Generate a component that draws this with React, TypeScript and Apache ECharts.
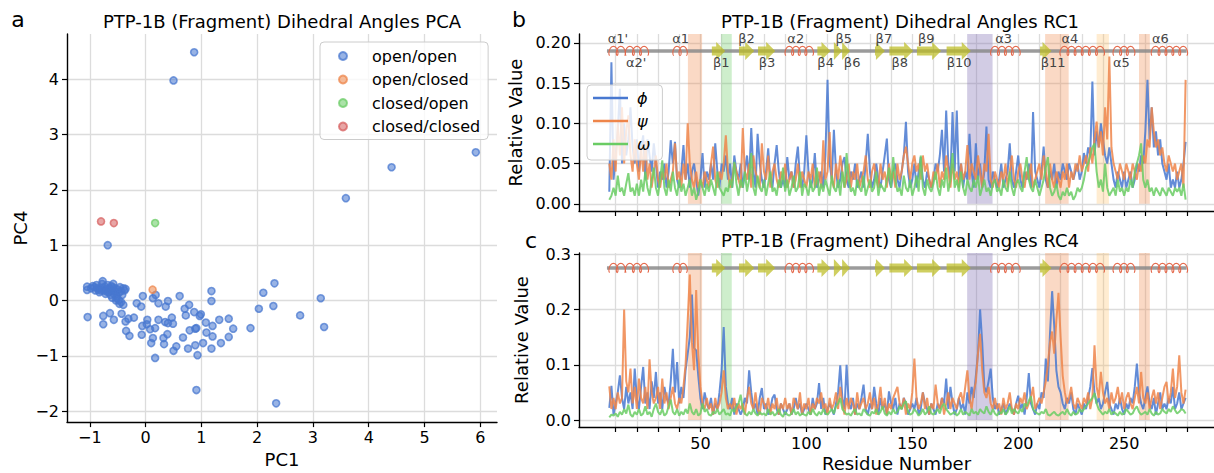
import React, { useEffect, useRef } from 'react';
import * as echarts from 'echarts';

const FONT = 'DejaVu Sans';

// ---------- Panel a: PCA scatter ----------
const openOpen: number[][] = [
  [0.87, 4.49], [0.5, 3.98], [5.92, 2.68], [4.41, 2.41], [3.59, 1.85], [-0.68, 1.0],
  [2.31, 0.31], [2.11, 0.14], [2.03, -0.15], [2.29, -0.1], [3.14, 0.04], [2.77, -0.27],
  [3.2, -0.48], [1.88, -0.5], [1.18, 0.17], [1.18, -0.01], [0.91, -1.62], [2.34, -1.86],
  [0.17, -1.04], [0.93, -0.99],
  [1.49, -0.33], [1.57, -0.51], [1.32, -0.35], [1.49, -0.66], [1.35, -0.77], [1.18, -0.87],
  [1.03, -0.77], [0.76, -0.87], [0.89, -0.81], [0.55, -0.83], [0.5, -0.91], [0.67, -0.67],
  [0.79, -0.54], [0.89, -0.51], [0.91, -0.5], [1.09, -0.58], [1.2, -0.65], [1.08, -0.4],
  [1.2, -0.46], [0.97, -0.28], [0.99, -0.25], [0.87, -0.21], [0.72, -0.27], [0.7, -0.15],
  [0.78, -0.08], [0.61, 0.08], [0.4, -0.01], [0.36, -0.11], [0.23, -0.05], [0.18, 0.1],
  [0.13, 0.04], [-0.05, 0.08], [-0.08, -0.11], [-0.16, -0.05], [0.47, -0.31], [0.49, -0.42],
  [0.4, -0.41], [0.35, -0.39], [0.23, -0.35], [0.03, -0.35], [0.02, -0.43], [-0.06, -0.46],
  [0.17, -0.5], [0.08, -0.52], [0.13, -0.68], [0.1, -0.77], [0.33, -0.79], [0.32, -0.68],
  [0.39, -0.61], [-0.07, -0.62], [-0.29, -0.64], [-0.35, -0.55], [-0.21, -0.31], [-0.31, -0.33],
  [-0.36, -0.38], [-0.43, -0.24], [-0.64, -0.23], [-0.57, -0.35], [-0.76, -0.28], [-0.76, -0.43],
  [-1.04, -0.3], [-0.47, -0.06], [-0.4, -0.08], [-0.53, 0.0], [-0.6, 0.05],
  [-1.05, 0.25], [-1.05, 0.19], [-0.98, 0.22], [-0.92, 0.24], [-0.9, 0.18], [-0.88, 0.28],
  [-0.85, 0.2], [-0.83, 0.15], [-0.8, 0.22], [-0.78, 0.3], [-0.77, 0.35], [-0.75, 0.18],
  [-0.73, 0.25], [-0.72, 0.12], [-0.7, 0.2], [-0.68, 0.28], [-0.66, 0.15], [-0.65, 0.22],
  [-0.63, 0.1], [-0.62, 0.26], [-0.6, 0.18], [-0.58, 0.3], [-0.57, 0.12], [-0.55, 0.22],
  [-0.54, 0.16], [-0.52, 0.08], [-0.5, 0.2], [-0.48, 0.14], [-0.46, 0.24], [-0.44, 0.17],
  [-0.42, 0.1], [-0.4, 0.22], [-0.38, 0.18], [-0.36, 0.21], [-0.95, 0.26], [-0.86, 0.23],
  [-0.81, 0.18], [-0.7, 0.16], [-0.64, 0.19], [-0.59, 0.24], [-0.52, 0.04], [-0.48, 0.01],
  [-0.44, -0.03],
];
const openClosed: number[][] = [[0.125, 0.195]];
const closedOpen: number[][] = [[0.17, 1.4]];
const closedClosed: number[][] = [[-0.8, 1.43], [-0.57, 1.4]];
const pcaXTicks = [-1, 0, 1, 2, 3, 4, 5, 6];
const pcaYTicks = [-2, -1, 0, 1, 2, 3, 4];

// ---------- Panels b, c: per-residue relative values (residue 7..279) ----------
const firstResidue = 7;

const rc1Phi = [
  0.015, 0.176, 0.03,
  0.06, 0.09, 0.143, 0.05, 0.1, 0.06, 0.08, 0.12, 0.07, 0.05,
  0.08, 0.04, 0.07, 0.085, 0.03, 0.08, 0.06, 0.04, 0.075, 0.05,
  0.02, 0.04, 0.03, 0.05, 0.02, 0.04, 0.079, 0.05, 0.077, 0.03,
  0.02, 0.04, 0.073, 0.03, 0.05, 0.02, 0.04, 0.05, 0.03, 0.01,
  0.03, 0.063, 0.02, 0.04, 0.03, 0.05, 0.03, 0.075, 0.04, 0.02,
  0.05, 0.04, 0.06, 0.03, 0.05, 0.02, 0.06, 0.04, 0.03, 0.05,
  0.02, 0.04, 0.06, 0.03, 0.094, 0.04, 0.02, 0.087, 0.05, 0.03,
  0.02, 0.04, 0.069, 0.03, 0.02, 0.05, 0.073, 0.04, 0.02, 0.03,
  0.02, 0.058, 0.03, 0.04, 0.02, 0.05, 0.071, 0.03, 0.02, 0.04,
  0.085, 0.04, 0.02, 0.03, 0.063, 0.02, 0.03, 0.04, 0.02, 0.06,
  0.154, 0.05, 0.03, 0.092, 0.04, 0.02, 0.03, 0.05, 0.058, 0.03,
  0.02, 0.04, 0.03, 0.05, 0.02, 0.03, 0.04, 0.02, 0.05, 0.087,
  0.04, 0.02, 0.03, 0.05, 0.03, 0.02, 0.04, 0.06, 0.081, 0.03,
  0.02, 0.04, 0.05, 0.03, 0.02, 0.04, 0.06, 0.102, 0.04, 0.02,
  0.03, 0.05, 0.02, 0.04, 0.058, 0.03, 0.02, 0.04, 0.03, 0.02,
  0.03, 0.05, 0.04, 0.06, 0.092, 0.04, 0.116, 0.05, 0.03, 0.114,
  0.04, 0.116, 0.03, 0.05, 0.02, 0.04, 0.03, 0.087, 0.04, 0.02,
  0.075, 0.03, 0.05, 0.02, 0.04, 0.096, 0.03, 0.02, 0.04, 0.03,
  0.02, 0.03, 0.05, 0.02, 0.03, 0.04, 0.075, 0.03, 0.02, 0.04,
  0.06, 0.03, 0.02, 0.04, 0.03, 0.05, 0.02, 0.114, 0.04, 0.03,
  0.02, 0.04, 0.071, 0.03, 0.02, 0.04, 0.03, 0.05, 0.02, 0.04,
  0.03, 0.05, 0.04, 0.03, 0.05, 0.04, 0.03, 0.04, 0.05, 0.03,
  0.04, 0.063, 0.05, 0.07, 0.06, 0.152, 0.06, 0.09, 0.07, 0.1,
  0.08, 0.06, 0.05, 0.07, 0.05, 0.03, 0.02, 0.04, 0.03, 0.02,
  0.04, 0.02, 0.03, 0.04, 0.02, 0.03, 0.05, 0.04, 0.06, 0.05,
  0.09, 0.154, 0.08, 0.12, 0.07, 0.09, 0.06, 0.08, 0.05, 0.04,
  0.03, 0.05, 0.02, 0.03, 0.02, 0.04, 0.02, 0.03, 0.05, 0.077,
];
const rc1Psi = [
  0.05, 0.03, 0.08,
  0.04, 0.1, 0.06, 0.12, 0.05, 0.09, 0.11, 0.06, 0.04, 0.08,
  0.05, 0.03, 0.07, 0.04, 0.078, 0.03, 0.05, 0.02, 0.04, 0.06,
  0.03, 0.02, 0.04, 0.03, 0.05, 0.02, 0.03, 0.04, 0.075, 0.03,
  0.04, 0.02, 0.05, 0.03, 0.1, 0.05, 0.03, 0.02, 0.04, 0.02,
  0.03, 0.02, 0.04, 0.03, 0.02, 0.05, 0.071, 0.03, 0.02, 0.04,
  0.03, 0.05, 0.085, 0.04, 0.02, 0.03, 0.05, 0.04, 0.03, 0.02,
  0.094, 0.04, 0.03, 0.05, 0.02, 0.06, 0.04, 0.03, 0.02, 0.075,
  0.04, 0.03, 0.06, 0.02, 0.04, 0.05, 0.03, 0.02, 0.04, 0.03,
  0.05, 0.02, 0.03, 0.04, 0.02, 0.03, 0.05, 0.02, 0.04, 0.03,
  0.02, 0.04, 0.03, 0.05, 0.02, 0.03, 0.04, 0.02, 0.079, 0.03,
  0.04, 0.089, 0.03, 0.02, 0.05, 0.03, 0.06, 0.04, 0.02, 0.03,
  0.05, 0.02, 0.04, 0.03, 0.05, 0.02, 0.03, 0.04, 0.06, 0.03,
  0.02, 0.04, 0.05, 0.03, 0.02, 0.05, 0.03, 0.04, 0.02, 0.05,
  0.03, 0.04, 0.02, 0.05, 0.03, 0.04, 0.06, 0.071, 0.05, 0.03,
  0.05, 0.06, 0.04, 0.05, 0.03, 0.06, 0.04, 0.05, 0.03, 0.02,
  0.04, 0.03, 0.05, 0.02, 0.04, 0.03, 0.06, 0.04, 0.02, 0.05,
  0.03, 0.04, 0.02, 0.05, 0.03, 0.04, 0.073, 0.03, 0.05, 0.04,
  0.03, 0.06, 0.04, 0.02, 0.05, 0.04, 0.087, 0.03, 0.02, 0.04,
  0.03, 0.02, 0.04, 0.03, 0.05, 0.02, 0.04, 0.06, 0.03, 0.02,
  0.04, 0.05, 0.03, 0.02, 0.04, 0.03, 0.05, 0.02, 0.03, 0.04,
  0.05, 0.03, 0.06, 0.04, 0.02, 0.05, 0.03, 0.02, 0.04, 0.03,
  0.02, 0.04, 0.03, 0.05, 0.02, 0.04, 0.03, 0.05, 0.04, 0.06,
  0.04, 0.05, 0.06, 0.04, 0.07, 0.05, 0.08, 0.102, 0.07, 0.09,
  0.06, 0.12, 0.08, 0.183, 0.07, 0.05, 0.04, 0.03, 0.05, 0.04,
  0.03, 0.05, 0.04, 0.03, 0.05, 0.04, 0.03, 0.05, 0.04, 0.06,
  0.05, 0.08, 0.07, 0.12, 0.09, 0.07, 0.08, 0.06, 0.07, 0.05,
  0.04, 0.06, 0.05, 0.04, 0.05, 0.03, 0.04, 0.05, 0.02, 0.154,
];
const rc1Omega = [
  0.005, 0.01, 0.02,
  0.01, 0.035, 0.015, 0.02, 0.01, 0.025, 0.038, 0.015, 0.02, 0.01,
  0.025, 0.01, 0.03, 0.015, 0.04, 0.02, 0.01, 0.03, 0.045, 0.02,
  0.01, 0.03, 0.054, 0.02, 0.01, 0.03, 0.015, 0.04, 0.02, 0.01,
  0.03, 0.015, 0.025, 0.01, 0.02, 0.03, 0.01, 0.02, 0.005, 0.015,
  0.03, 0.02, 0.01, 0.025, 0.015, 0.03, 0.02, 0.01, 0.04, 0.02,
  0.015, 0.01, 0.02, 0.015, 0.03, 0.02, 0.052, 0.025, 0.01, 0.03,
  0.02, 0.04, 0.015, 0.03, 0.063, 0.02, 0.01, 0.035, 0.02, 0.015,
  0.03, 0.01, 0.025, 0.04, 0.015, 0.02, 0.01, 0.03, 0.02, 0.045,
  0.015, 0.03, 0.01, 0.02, 0.035, 0.015, 0.02, 0.04, 0.01, 0.025,
  0.02, 0.01, 0.03, 0.015, 0.02, 0.045, 0.01, 0.025, 0.015, 0.03,
  0.02, 0.01, 0.035, 0.02, 0.015, 0.03, 0.01, 0.04, 0.02, 0.063,
  0.03, 0.015, 0.02, 0.01, 0.03, 0.02, 0.015, 0.035, 0.01, 0.02,
  0.03, 0.015, 0.02, 0.04, 0.01, 0.025, 0.02, 0.015, 0.03, 0.045,
  0.02, 0.058, 0.03, 0.015, 0.02, 0.01, 0.035, 0.02, 0.015, 0.03,
  0.01, 0.02, 0.035, 0.015, 0.06, 0.02, 0.01, 0.03, 0.02, 0.015,
  0.025, 0.04, 0.02, 0.01, 0.03, 0.02, 0.045, 0.015, 0.03, 0.063,
  0.02, 0.03, 0.015, 0.04, 0.02, 0.01, 0.03, 0.02, 0.015, 0.03,
  0.02, 0.035, 0.01, 0.02, 0.03, 0.015, 0.02, 0.01, 0.025, 0.03,
  0.015, 0.02, 0.01, 0.03, 0.02, 0.015, 0.04, 0.02, 0.01, 0.025,
  0.03, 0.02, 0.015, 0.04, 0.058, 0.03, 0.02, 0.015, 0.03, 0.02,
  0.01, 0.02, 0.03, 0.045, 0.058, 0.02, 0.01, 0.015, 0.025, 0.01,
  0.005, 0.015, 0.01, 0.02, 0.01, 0.015, 0.005, 0.01, 0.02, 0.015,
  0.02, 0.03, 0.045, 0.05, 0.06, 0.07, 0.075, 0.04, 0.02, 0.03,
  0.015, 0.05, 0.02, 0.01, 0.015, 0.02, 0.01, 0.03, 0.015, 0.02,
  0.01, 0.02, 0.015, 0.03, 0.02, 0.04, 0.05, 0.06, 0.075, 0.03,
  0.02, 0.03, 0.015, 0.02, 0.01, 0.02, 0.015, 0.01, 0.02, 0.015,
  0.01, 0.02, 0.015, 0.01, 0.02, 0.015, 0.02, 0.01, 0.025, 0.005,
];

const rc4Phi = [
  0.022, 0.062, 0.01,
  0.03, 0.05, 0.081, 0.04, 0.02, 0.06, 0.03, 0.05, 0.02, 0.093,
  0.04, 0.02, 0.06, 0.096, 0.03, 0.05, 0.02, 0.07, 0.04, 0.087,
  0.03, 0.05, 0.02, 0.06, 0.04, 0.03, 0.07, 0.129, 0.05, 0.105,
  0.03, 0.06, 0.04, 0.09, 0.12, 0.15, 0.227, 0.13, 0.126, 0.08,
  0.04, 0.02, 0.05, 0.03, 0.02, 0.04, 0.01, 0.03, 0.02, 0.05,
  0.09, 0.168, 0.06, 0.03, 0.02, 0.04, 0.01, 0.03, 0.02, 0.01,
  0.02, 0.04, 0.03, 0.09, 0.05, 0.02, 0.03, 0.01, 0.04, 0.058,
  0.02, 0.03, 0.01, 0.02, 0.04, 0.046, 0.02, 0.01, 0.03, 0.02,
  0.01, 0.02, 0.03, 0.01, 0.02, 0.04, 0.02, 0.03, 0.01, 0.02,
  0.03, 0.02, 0.01, 0.04, 0.02, 0.03, 0.067, 0.02, 0.04, 0.01,
  0.02, 0.03, 0.02, 0.01, 0.03, 0.05, 0.099, 0.04, 0.02, 0.1,
  0.03, 0.02, 0.04, 0.01, 0.03, 0.02, 0.04, 0.064, 0.02, 0.01,
  0.03, 0.02, 0.06, 0.03, 0.01, 0.04, 0.02, 0.03, 0.01, 0.052,
  0.03, 0.02, 0.04, 0.01, 0.03, 0.02, 0.04, 0.03, 0.01, 0.02,
  0.03, 0.02, 0.04, 0.01, 0.02, 0.05, 0.03, 0.02, 0.01, 0.03,
  0.02, 0.01, 0.03, 0.02, 0.04, 0.03, 0.075, 0.02, 0.06, 0.03,
  0.01, 0.02, 0.04, 0.02, 0.03, 0.01, 0.05, 0.03, 0.06, 0.04,
  0.08, 0.12, 0.2, 0.14, 0.06, 0.05, 0.07, 0.093, 0.04, 0.02,
  0.03, 0.01, 0.02, 0.03, 0.01, 0.02, 0.03, 0.02, 0.01, 0.03,
  0.044, 0.02, 0.03, 0.01, 0.04, 0.085, 0.03, 0.02, 0.01, 0.03,
  0.02, 0.05, 0.04, 0.111, 0.07, 0.156, 0.233, 0.17, 0.09, 0.06,
  0.05, 0.03, 0.02, 0.04, 0.03, 0.05, 0.02, 0.01, 0.03, 0.02,
  0.01, 0.03, 0.02, 0.04, 0.06, 0.094, 0.05, 0.03, 0.04, 0.02,
  0.03, 0.05, 0.069, 0.03, 0.02, 0.01, 0.03, 0.02, 0.04, 0.02,
  0.01, 0.03, 0.02, 0.04, 0.03, 0.06, 0.102, 0.05, 0.03, 0.02,
  0.04, 0.061, 0.03, 0.02, 0.04, 0.01, 0.03, 0.05, 0.02, 0.03,
  0.02, 0.04, 0.03, 0.06, 0.02, 0.03, 0.05, 0.02, 0.03, 0.04,
];
const rc4Psi = [
  0.061, 0.02, 0.04,
  0.02, 0.05, 0.03, 0.04, 0.2, 0.07, 0.05, 0.093, 0.03, 0.06,
  0.02, 0.075, 0.04, 0.03, 0.06, 0.02, 0.11, 0.05, 0.03, 0.04,
  0.06, 0.02, 0.075, 0.03, 0.05, 0.02, 0.04, 0.06, 0.03, 0.02,
  0.04, 0.03, 0.06, 0.1, 0.18, 0.263, 0.14, 0.09, 0.235, 0.12,
  0.06, 0.03, 0.02, 0.04, 0.02, 0.03, 0.01, 0.04, 0.02, 0.03,
  0.05, 0.09, 0.04, 0.02, 0.03, 0.02, 0.04, 0.01, 0.03, 0.02,
  0.03, 0.01, 0.04, 0.06, 0.03, 0.02, 0.05, 0.02, 0.01, 0.04,
  0.03, 0.02, 0.04, 0.01, 0.03, 0.02, 0.04, 0.01, 0.03, 0.02,
  0.04, 0.02, 0.03, 0.01, 0.04, 0.03, 0.02, 0.05, 0.01, 0.03,
  0.02, 0.04, 0.01, 0.03, 0.02, 0.04, 0.03, 0.05, 0.02, 0.03,
  0.01, 0.04, 0.02, 0.03, 0.05, 0.02, 0.06, 0.03, 0.01, 0.04,
  0.02, 0.04, 0.03, 0.01, 0.05, 0.02, 0.03, 0.04, 0.02, 0.03,
  0.05, 0.02, 0.04, 0.01, 0.03, 0.06, 0.02, 0.04, 0.01, 0.03,
  0.02, 0.04, 0.05, 0.06, 0.03, 0.02, 0.04, 0.01, 0.03, 0.02,
  0.05, 0.111, 0.04, 0.02, 0.03, 0.05, 0.02, 0.04, 0.01, 0.03,
  0.02, 0.064, 0.03, 0.02, 0.04, 0.01, 0.03, 0.05, 0.02, 0.04,
  0.03, 0.02, 0.04, 0.05, 0.03, 0.06, 0.09, 0.04, 0.02, 0.05,
  0.07, 0.12, 0.156, 0.09, 0.05, 0.04, 0.06, 0.03, 0.02, 0.04,
  0.02, 0.03, 0.01, 0.04, 0.02, 0.03, 0.05, 0.02, 0.01, 0.03,
  0.02, 0.04, 0.03, 0.05, 0.02, 0.03, 0.04, 0.06, 0.02, 0.03,
  0.04, 0.03, 0.05, 0.07, 0.1, 0.14, 0.16, 0.12, 0.18, 0.23,
  0.15, 0.08, 0.05, 0.03, 0.04, 0.06, 0.03, 0.02, 0.04, 0.03,
  0.02, 0.04, 0.03, 0.05, 0.02, 0.04, 0.135, 0.06, 0.04, 0.087,
  0.05, 0.03, 0.04, 0.02, 0.05, 0.03, 0.04, 0.06, 0.03, 0.05,
  0.02, 0.04, 0.05, 0.03, 0.02, 0.04, 0.06, 0.03, 0.087, 0.04,
  0.03, 0.05, 0.02, 0.04, 0.055, 0.03, 0.05, 0.02, 0.04, 0.06,
  0.069, 0.03, 0.05, 0.093, 0.04, 0.06, 0.117, 0.05, 0.03, 0.055,
];
const rc4Omega = [
  0.005, 0.01, 0.008,
  0.012, 0.006, 0.015, 0.01, 0.02, 0.012, 0.028, 0.01, 0.006, 0.015,
  0.01, 0.02, 0.008, 0.012, 0.025, 0.01, 0.015, 0.006, 0.02, 0.03,
  0.015, 0.01, 0.02, 0.008, 0.012, 0.025, 0.037, 0.015, 0.01, 0.02,
  0.008, 0.015, 0.01, 0.02, 0.012, 0.03, 0.015, 0.01, 0.02, 0.008,
  0.012, 0.03, 0.015, 0.02, 0.01, 0.008, 0.015, 0.012, 0.02, 0.01,
  0.015, 0.02, 0.01, 0.012, 0.008, 0.02, 0.015, 0.025, 0.03, 0.046,
  0.02, 0.012, 0.008, 0.015, 0.01, 0.02, 0.012, 0.008, 0.015, 0.01,
  0.012, 0.008, 0.02, 0.01, 0.015, 0.008, 0.012, 0.02, 0.01, 0.006,
  0.015, 0.01, 0.008, 0.012, 0.02, 0.01, 0.015, 0.008, 0.012, 0.01,
  0.008, 0.015, 0.01, 0.02, 0.012, 0.008, 0.015, 0.01, 0.02, 0.012,
  0.01, 0.015, 0.02, 0.012, 0.025, 0.03, 0.04, 0.02, 0.015, 0.01,
  0.012, 0.008, 0.015, 0.02, 0.01, 0.012, 0.008, 0.02, 0.015, 0.01,
  0.008, 0.015, 0.012, 0.02, 0.01, 0.015, 0.025, 0.012, 0.008, 0.015,
  0.01, 0.02, 0.012, 0.015, 0.025, 0.02, 0.03, 0.034, 0.015, 0.01,
  0.012, 0.02, 0.015, 0.008, 0.012, 0.02, 0.01, 0.015, 0.025, 0.012,
  0.01, 0.015, 0.02, 0.012, 0.025, 0.03, 0.02, 0.015, 0.01, 0.012,
  0.015, 0.008, 0.012, 0.02, 0.01, 0.015, 0.012, 0.008, 0.02, 0.012,
  0.015, 0.01, 0.02, 0.015, 0.012, 0.025, 0.015, 0.01, 0.02, 0.012,
  0.008, 0.015, 0.012, 0.02, 0.01, 0.015, 0.025, 0.012, 0.02, 0.015,
  0.012, 0.02, 0.015, 0.03, 0.025, 0.035, 0.043, 0.02, 0.015, 0.012,
  0.01, 0.015, 0.012, 0.02, 0.01, 0.008, 0.012, 0.015, 0.01, 0.008,
  0.012, 0.015, 0.01, 0.02, 0.012, 0.008, 0.015, 0.01, 0.012, 0.02,
  0.015, 0.02, 0.025, 0.03, 0.035, 0.04, 0.049, 0.03, 0.02, 0.015,
  0.01, 0.015, 0.012, 0.02, 0.01, 0.015, 0.012, 0.008, 0.015, 0.01,
  0.012, 0.02, 0.015, 0.01, 0.012, 0.02, 0.025, 0.015, 0.01, 0.012,
  0.015, 0.01, 0.02, 0.012, 0.008, 0.015, 0.01, 0.012, 0.02, 0.015,
  0.012, 0.02, 0.015, 0.025, 0.018, 0.012, 0.015, 0.02, 0.018, 0.012,
];

const residueTicks = [10, 20, 30, 40, 50, 60, 70, 80, 90, 100, 110, 120, 130, 140, 150, 160, 170, 180, 190, 200, 210, 220, 230, 240, 250, 260, 270, 280];
const residueLabels = [50, 100, 150, 200, 250];
const rc1YTicks = [0, 0.05, 0.1, 0.15, 0.2];
const rc4YTicks = [0, 0.1, 0.2, 0.3];

// secondary structure: [kind, label, start, end, labelResidue, labelSide]
const secondary: [string, string, number, number, number, string][] = [
  ['H', "α1'", 7.2, 14.2, 11.1, 'up'],
  ['H', "α2'", 15.0, 25.1, 19.7, 'down'],
  ['H', 'α1', 37.5, 43.3, 40.7, 'up'],
  ['E', 'β1', 55.4, 61.7, 59.8, 'down'],
  ['E', 'β2', 68.2, 75.4, 71.8, 'up'],
  ['E', 'β3', 77.2, 85.3, 81.4, 'down'],
  ['H', 'α2', 90.4, 102.9, 95.0, 'up'],
  ['E', 'β4', 105.2, 111.4, 109.1, 'down'],
  ['E', 'β5', 113.0, 116.9, 117.7, 'up'],
  ['E', 'β6', 116.9, 120.6, 121.6, 'down'],
  ['E', 'β7', 132.4, 137.1, 136.6, 'up'],
  ['E', 'β8', 139.2, 150.4, 144.1, 'down'],
  ['E', 'β9', 152.2, 163.6, 156.6, 'up'],
  ['E', 'β10', 166.2, 177.6, 172.1, 'down'],
  ['H', 'α3', 187.4, 200.5, 193.1, 'up'],
  ['E', 'β11', 210.3, 215.7, 216.5, 'down'],
  ['H', 'α4', 220.1, 240.3, 224.4, 'up'],
  ['H', 'α5', 245.2, 254.6, 248.7, 'down'],
  ['H', 'α6', 263.2, 279.5, 267.1, 'up'],
];
const backboneRange = [5.9, 279.5];
const rc1Track = 0.19;
const rc4Track = 0.275;

// highlighted residue ranges and their kind
const bandRanges = [[44.1, 50.8], [59.8, 64.8], [175.9, 187.9], [212.7, 223.8], [237.0, 242.8], [257.0, 262.1]];
const bandKinds = ['orange', 'green', 'purple', 'orange', 'light', 'orange'];

// ---------- styles ----------
const bandColors: Record<string, string> = {
  orange: 'rgba(240,140,80,0.33)',
  green: 'rgba(106,204,100,0.33)',
  purple: 'rgba(130,114,179,0.36)',
  light: 'rgba(255,185,90,0.28)',
};
const C_BLUE = '#4878d0';
const C_ORANGE = '#ee854a';
const C_GREEN = '#6acc64';
const HELIX = 'rgba(228,100,70,0.95)';
const STRAND = 'rgba(188,189,34,0.72)';

const minusFmt = (v: number) => (v < 0 ? '\u2212' + Math.abs(v) : String(v));
const pairs = (vals: number[]) => vals.map((v, i) => [firstResidue + i, v]);

function coilPoints(x1: number, x2: number, yc: number): number[][] {
  const len = Math.max(2, x2 - x1);
  const n = Math.max(1, Math.round(len / 6.8));
  const pitch = len / n;
  const a = 2.4;
  const h = 4.6;
  const pts: number[][] = [];
  const steps = n * 28;
  for (let i = 0; i <= steps; i++) {
    const t = (i / steps) * n;
    const th = Math.PI + t * 2 * Math.PI;
    pts.push([x1 + t * pitch + a * Math.sin(th), yc - h * Math.cos(th)]);
  }
  return pts;
}

function arrowPoints(x1: number, x2: number, yc: number): number[][] {
  const L = x2 - x1;
  const hl = Math.min(9, L);
  const bw = 4.5;
  const hw = 9;
  return [
    [x1, yc - bw], [x2 - hl, yc - bw], [x2 - hl, yc - hw], [x2, yc],
    [x2 - hl, yc + hw], [x2 - hl, yc + bw], [x1, yc + bw],
  ];
}

const axisLine = { show: true, onZero: false, lineStyle: { color: '#000', width: 1.4 } };
const tickBase = { show: true, length: 5, lineStyle: { color: '#000', width: 1.2 } };
const splitLine = { show: true, lineStyle: { color: '#dcdcdc', width: 1.3 } };
const labelFont = { fontFamily: FONT, fontSize: 16, color: '#000' };
const nameFont = { fontFamily: FONT, fontSize: 18, color: '#000' };

function ssSeries(idx: number, track: number, showLabels: boolean) {
  return {
    type: 'custom',
    xAxisIndex: idx,
    yAxisIndex: idx,
    z: 6,
    silent: true,
    data: secondary.map((s) => [s[2], s[3], track]),
    encode: { x: [0, 1], y: 2 },
    renderItem: (params: any, api: any) => {
      const s = secondary[params.dataIndex];
      const a = api.coord([api.value(0), track]);
      const b = api.coord([api.value(1), track]);
      const children: any[] = [];
      if (s[0] === 'H') {
        children.push({
          type: 'polyline',
          shape: { points: coilPoints(a[0], b[0], a[1]) },
          style: { stroke: HELIX, lineWidth: 1.1, fill: 'none' },
        });
      } else {
        children.push({
          type: 'polygon',
          shape: { points: arrowPoints(a[0], b[0], a[1]) },
          style: { fill: STRAND },
        });
      }
      if (showLabels) {
        const c = api.coord([s[4], track]);
        children.push({
          type: 'text',
          x: c[0],
          y: c[1] + (s[5] === 'up' ? -12 : 12),
          style: {
            text: s[1],
            textAlign: 'center',
            textVerticalAlign: 'middle',
            fill: '#444',
            font: '13px "DejaVu Sans"',
          },
        });
      }
      return { type: 'group', children };
    },
  };
}

function panelSeries(idx: number, phi: number[], psi: number[], omega: number[], track: number, ymax: number, showLabels: boolean) {
  const line = (name: string, vals: number[], color: string, z: number) => ({
    type: 'line',
    name,
    xAxisIndex: idx,
    yAxisIndex: idx,
    data: pairs(vals),
    showSymbol: false,
    symbol: 'none',
    z,
    silent: true,
    itemStyle: { color },
    lineStyle: { color, width: 2, opacity: 0.85 },
  });
  return [
    {
      type: 'line',
      name: 'backbone',
      xAxisIndex: idx,
      yAxisIndex: idx,
      data: backboneRange.map((r) => [r, track]),
      showSymbol: false,
      symbol: 'none',
      silent: true,
      z: 5,
      lineStyle: { color: '#8a8a8a', width: 3.5, opacity: 0.85 },
      markArea: {
        silent: true,
        data: bandRanges.map((r, i) => [
          { xAxis: r[0], yAxis: 0, itemStyle: { color: bandColors[bandKinds[i]] } },
          { xAxis: r[1], yAxis: ymax },
        ]),
      },
    },
    line('\u03d5', phi, C_BLUE, 2),
    line('ψ', psi, C_ORANGE, 3),
    line('ω', omega, C_GREEN, 4),
    ssSeries(idx, track, showLabels),
  ];
}

function scatter(name: string, data: number[][], rgb: string) {
  return {
    type: 'scatter',
    name,
    xAxisIndex: 0,
    yAxisIndex: 0,
    data,
    symbolSize: 7,
    silent: true,
    itemStyle: { color: `rgba(${rgb},0.7)`, borderColor: `rgba(${rgb},0.92)`, borderWidth: 1.6 },
  };
}

function buildOption() {
  const rightXMin = -7.3;
  const rightXMax = 292.4;
  const rc1Max = 0.211;
  const rc4Max = 0.302;
  return {
    animation: false,
    backgroundColor: '#ffffff',
    textStyle: { fontFamily: FONT },
    grid: [
      { left: 67, top: 34, width: 430, height: 396 },
      { left: 579, top: 34, width: 642, height: 177 },
      { left: 579, top: 253, width: 642, height: 176 },
    ],
    xAxis: [
      {
        type: 'value', gridIndex: 0, min: -1.41, max: 6.3,
        axisLine, axisTick: { ...tickBase, customValues: pcaXTicks },
        axisLabel: { ...labelFont, margin: 7, customValues: pcaXTicks, formatter: minusFmt },
        splitLine,
        name: 'PC1', nameLocation: 'middle', nameGap: 26, nameTextStyle: nameFont,
      },
      {
        type: 'value', gridIndex: 1, min: rightXMin, max: rightXMax,
        axisLine, axisTick: { ...tickBase, customValues: residueTicks },
        axisLabel: { show: false, customValues: residueLabels },
        splitLine,
      },
      {
        type: 'value', gridIndex: 2, min: rightXMin, max: rightXMax,
        axisLine, axisTick: { ...tickBase, customValues: residueTicks },
        axisLabel: { ...labelFont, margin: 8, customValues: residueLabels },
        splitLine,
        name: 'Residue Number', nameLocation: 'middle', nameGap: 27, nameTextStyle: nameFont,
      },
    ],
    yAxis: [
      {
        type: 'value', gridIndex: 0, min: -2.2, max: 4.82,
        axisLine, axisTick: { ...tickBase, customValues: pcaYTicks },
        axisLabel: { ...labelFont, margin: 8, customValues: pcaYTicks, formatter: minusFmt },
        splitLine,
        name: 'PC4', nameLocation: 'middle', nameGap: 38, nameTextStyle: nameFont,
      },
      {
        type: 'value', gridIndex: 1, min: -0.009, max: rc1Max,
        axisLine, axisTick: { ...tickBase, customValues: rc1YTicks },
        axisLabel: { ...labelFont, margin: 8, customValues: rc1YTicks, formatter: (v: number) => v.toFixed(2) },
        splitLine,
        name: 'Relative Value', nameLocation: 'middle', nameGap: 49, nameTextStyle: nameFont,
      },
      {
        type: 'value', gridIndex: 2, min: -0.0125, max: rc4Max,
        axisLine, axisTick: { ...tickBase, customValues: rc4YTicks },
        axisLabel: { ...labelFont, margin: 8, customValues: rc4YTicks, formatter: (v: number) => v.toFixed(1) },
        splitLine,
        name: 'Relative Value', nameLocation: 'middle', nameGap: 49, nameTextStyle: nameFont,
      },
    ],
    legend: [
      {
        data: ['open/open', 'open/closed', 'closed/open', 'closed/closed'],
        orient: 'vertical', left: 320, top: 42,
        icon: 'circle', itemWidth: 8, itemHeight: 8, itemGap: 7.5,
        padding: [6, 8, 5, 18],
        selectedMode: false,
        backgroundColor: 'rgba(255,255,255,0.8)', borderColor: '#cccccc', borderWidth: 1, borderRadius: 4,
        textStyle: { fontFamily: FONT, fontSize: 16, color: '#000', lineHeight: 16, padding: [0, 0, 0, 20] },
      },
      {
        data: ['\u03d5', 'ψ', 'ω'],
        orient: 'vertical', left: 587, top: 85,
        icon: 'rect', itemWidth: 35, itemHeight: 2.5, itemGap: 7,
        padding: [5, 12, 8, 6],
        selectedMode: false,
        backgroundColor: 'rgba(255,255,255,0.8)', borderColor: '#cccccc', borderWidth: 1, borderRadius: 4,
        textStyle: { fontFamily: FONT, fontSize: 16, fontStyle: 'italic', color: '#000', lineHeight: 16, padding: [0, 0, 0, 4] },
      },
    ],
    graphic: [
      { type: 'text', x: 18, y: 19, style: { text: 'a', font: '22px "DejaVu Sans"', fill: '#000', textAlign: 'center', textVerticalAlign: 'middle' } },
      { type: 'text', x: 519, y: 19, style: { text: 'b', font: '22px "DejaVu Sans"', fill: '#000', textAlign: 'center', textVerticalAlign: 'middle' } },
      { type: 'text', x: 531, y: 240, style: { text: 'c', font: '22px "DejaVu Sans"', fill: '#000', textAlign: 'center', textVerticalAlign: 'middle' } },
      { type: 'text', x: 282, y: 21, style: { text: 'PTP-1B (Fragment) Dihedral Angles PCA', font: '18px "DejaVu Sans"', fill: '#000', textAlign: 'center', textVerticalAlign: 'middle' } },
      { type: 'text', x: 900, y: 21, style: { text: 'PTP-1B (Fragment) Dihedral Angles RC1', font: '18px "DejaVu Sans"', fill: '#000', textAlign: 'center', textVerticalAlign: 'middle' } },
      { type: 'text', x: 900, y: 240, style: { text: 'PTP-1B (Fragment) Dihedral Angles RC4', font: '18px "DejaVu Sans"', fill: '#000', textAlign: 'center', textVerticalAlign: 'middle' } },
    ],
    series: [
      scatter('open/open', openOpen, '72,120,208'),
      scatter('open/closed', openClosed, '238,133,74'),
      scatter('closed/open', closedOpen, '106,204,100'),
      scatter('closed/closed', closedClosed, '214,95,95'),
      ...panelSeries(1, rc1Phi, rc1Psi, rc1Omega, rc1Track, rc1Max, true),
      ...panelSeries(2, rc4Phi, rc4Psi, rc4Omega, rc4Track, rc4Max, false),
    ],
  };
}

export default function App() {
  const ref = useRef<HTMLDivElement>(null);
  useEffect(() => {
    if (!ref.current) return;
    const chart = echarts.init(ref.current, undefined, { renderer: 'svg' });
    chart.setOption(buildOption() as any);
    return () => chart.dispose();
  }, []);
  return (
    <div
      ref={ref}
      style={{ position: 'fixed', left: 0, top: 0, width: 1214, height: 473, background: '#ffffff' }}
    />
  );
}
